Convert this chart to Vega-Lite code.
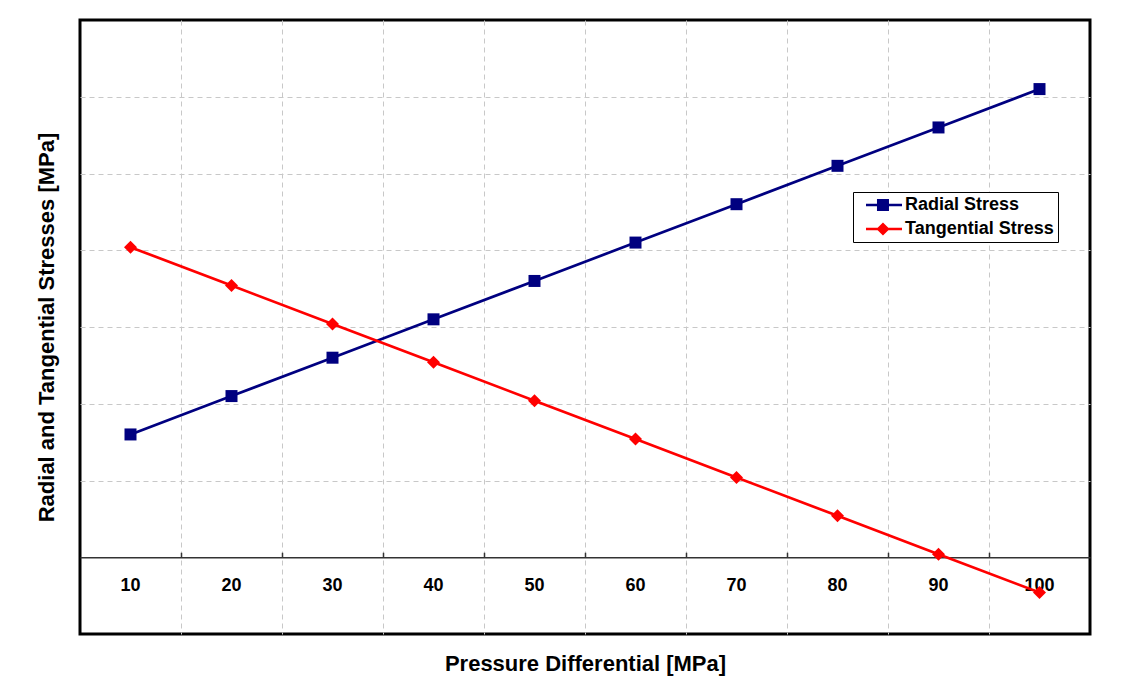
{
  "$schema": "https://vega.github.io/schema/vega-lite/v6.json",
  "width": 1010,
  "height": 614,
  "autosize": "none",
  "padding": {"left": 80, "top": 20, "right": 35, "bottom": 50},
  "background": "white",
  "config": {"view": {"stroke": "black", "strokeWidth": 3}, "font": "Liberation Sans"},
  "data": {"values": [
    {"P": 10, "series": "Radial Stress", "stress": 1.6},
    {"P": 20, "series": "Radial Stress", "stress": 2.1},
    {"P": 30, "series": "Radial Stress", "stress": 2.6},
    {"P": 40, "series": "Radial Stress", "stress": 3.1},
    {"P": 50, "series": "Radial Stress", "stress": 3.6},
    {"P": 60, "series": "Radial Stress", "stress": 4.1},
    {"P": 70, "series": "Radial Stress", "stress": 4.6},
    {"P": 80, "series": "Radial Stress", "stress": 5.1},
    {"P": 90, "series": "Radial Stress", "stress": 5.6},
    {"P": 100, "series": "Radial Stress", "stress": 6.1},
    {"P": 10, "series": "Tangential Stress", "stress": 4.04},
    {"P": 20, "series": "Tangential Stress", "stress": 3.54},
    {"P": 30, "series": "Tangential Stress", "stress": 3.04},
    {"P": 40, "series": "Tangential Stress", "stress": 2.54},
    {"P": 50, "series": "Tangential Stress", "stress": 2.04},
    {"P": 60, "series": "Tangential Stress", "stress": 1.54},
    {"P": 70, "series": "Tangential Stress", "stress": 1.04},
    {"P": 80, "series": "Tangential Stress", "stress": 0.54},
    {"P": 90, "series": "Tangential Stress", "stress": 0.04},
    {"P": 100, "series": "Tangential Stress", "stress": -0.46}
  ]},
  "encoding": {
    "y": {
      "field": "stress", "type": "quantitative",
      "scale": {"domain": [-1, 7], "nice": false, "zero": false},
      "axis": {
        "title": "Radial and Tangential Stresses [MPa]",
        "values": [1, 2, 3, 4, 5, 6],
        "grid": true, "gridColor": "#c8c8c8", "gridDash": [5, 4], "gridWidth": 1,
        "labels": false, "ticks": false, "domain": false,
        "titleFont": "Liberation Sans", "titleFontSize": 22, "titleFontWeight": "bold", "titleColor": "black",
        "titlePadding": 22, "minExtent": 0
      }
    }
  },
  "layer": [
    {
      "transform": [{"filter": "datum.series === 'Radial Stress'"}],
      "mark": {"type": "line", "strokeWidth": 2.7, "color": "#000080"},
      "encoding": {
        "x": {
          "field": "P", "type": "ordinal",
          "scale": {"type": "band", "paddingInner": 0, "paddingOuter": 0},
          "axis": {
            "orient": "bottom",
            "title": null, "offset": -76.75, "domain": false, "ticks": false, "tickSize": 0, "grid": false,
            "labelFont": "Liberation Sans", "labelFontSize": 18, "labelFontWeight": "bold", "labelColor": "black",
            "labelPadding": 19, "labelAngle": 0, "minExtent": 0
          }
        }
      }
    },
    {
      "transform": [{"filter": "datum.series === 'Tangential Stress'"}],
      "mark": {"type": "line", "strokeWidth": 2.7, "color": "#ff0000"},
      "encoding": {
        "x": {
          "field": "P", "type": "ordinal",
          "scale": {"type": "band", "paddingInner": 0, "paddingOuter": 0},
          "axis": null
        }
      }
    },
    {
      "transform": [{"filter": "datum.series === 'Radial Stress'"}],
      "mark": {"type": "point", "filled": true, "size": 144, "opacity": 1, "shape": "square", "color": "#000080"},
      "encoding": {
        "x": {
          "field": "P", "type": "ordinal",
          "scale": {"type": "band", "paddingInner": 0, "paddingOuter": 0},
          "axis": {
            "orient": "bottom",
            "title": "Pressure Differential [MPa]", "offset": -76.75,
            "values": [20, 30, 40, 50, 60, 70, 80, 90, 100], "bandPosition": 0,
            "labels": false, "ticks": true, "tickSize": -5, "tickColor": "#333", "tickWidth": 1.5,
            "domain": true, "domainColor": "#333", "domainWidth": 1.5,
            "grid": true, "gridColor": "#c8c8c8", "gridDash": [5, 4], "gridWidth": 1,
            "titleFont": "Liberation Sans", "titleFontSize": 22, "titleFontWeight": "bold", "titleColor": "black",
            "titlePadding": 95, "minExtent": 0
          }
        }
      }
    },
    {
      "transform": [{"filter": "datum.series === 'Tangential Stress'"}],
      "mark": {"type": "point", "filled": true, "size": 169, "opacity": 1, "shape": "diamond", "color": "#ff0000"},
      "encoding": {
        "x": {
          "field": "P", "type": "ordinal",
          "scale": {"type": "band", "paddingInner": 0, "paddingOuter": 0},
          "axis": null
        }
      }
    },
    {
      "mark": {"type": "point", "filled": true, "size": 144, "opacity": 0},
      "encoding": {
        "x": {
          "field": "P", "type": "ordinal",
          "scale": {"type": "band", "paddingInner": 0, "paddingOuter": 0},
          "axis": null
        },
        "color": {
          "field": "series", "type": "nominal",
          "scale": {"domain": ["Radial Stress", "Tangential Stress"], "range": ["#000080", "#ff0000"]},
          "legend": {
            "orient": "none", "legendX": 773, "legendY": 172, "title": null,
            "labelFont": "Liberation Sans", "labelFontSize": 18, "labelFontWeight": "bold", "labelColor": "black",
            "strokeColor": "black", "fillColor": "white", "padding": 4,
            "symbolSize": 144, "symbolOpacity": 1, "labelOffset": 30, "rowPadding": 6
          }
        },
        "shape": {
          "field": "series", "type": "nominal",
          "scale": {"domain": ["Radial Stress", "Tangential Stress"], "range": ["M0,-0.22H6V0.22H0Z M1.83,-1H3.83V1H1.83Z", "M0,-0.22H6V0.22H0Z M2.83,-1.1L3.93,0L2.83,1.1L1.73,0Z"]},
          "legend": null
        }
      }
    }
  ],
  "resolve": {"axis": {"x": "independent"}}
}
